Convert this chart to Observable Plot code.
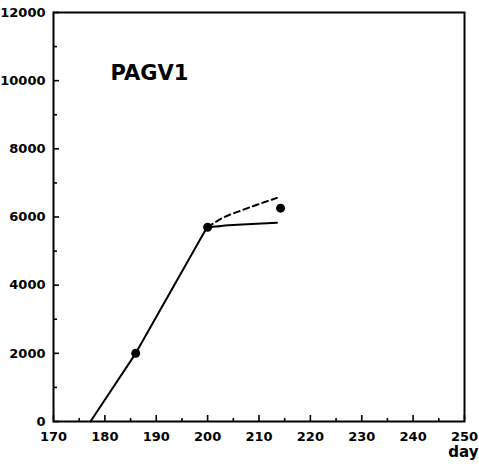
<!DOCTYPE html>
<html>
<head>
<meta charset="utf-8">
<script src="https://cdn.jsdelivr.net/npm/d3@7"></script>
<script src="https://cdn.jsdelivr.net/npm/@observablehq/plot@0.6"></script>
<style>
  html, body { margin: 0; padding: 0; background: #fff; }
  svg text { font-family: "DejaVu Sans", sans-serif; font-weight: bold; }
</style>
</head>
<body>
<div id="chart"></div>
<script>
// Rising (solid) line
const riseDays = [177.2, 186, 199.5, 200];
const riseVals = [0, 2000, 5600, 5700];
// Solid continuation
const solidDays = [200, 201.5, 204, 207.7, 213.5];
const solidVals = [5700, 5720, 5760, 5790, 5830];
// Dashed continuation
const dashDays = [200, 203, 206.7, 210, 213.5];
const dashVals = [5700, 5980, 6200, 6380, 6560];
// Observed points
const obsDays = [186, 200, 214.2];
const obsVals = [2000, 5700, 6260];
// Axis ticks
const xMajor = [170, 180, 190, 200, 210, 220, 230, 240, 250];
const xMinor = [175, 185, 195, 205, 215, 225, 235, 245];
const yMajor = [0, 2000, 4000, 6000, 8000, 10000, 12000];
const yMinor = [1000, 3000, 5000, 7000, 9000, 11000];
const title = "PAGV1";
const xLabel = "day";

const toRows = (xs, ys) => xs.map((x, i) => ({x, y: ys[i]}));
const rise = toRows(riseDays, riseVals);
const solid = toRows(solidDays, solidVals);
const dash = toRows(dashDays, dashVals);
const obs = toRows(obsDays, obsVals);

const chart = Plot.plot({
  width: 479,
  height: 471,
  marginLeft: 53,
  marginRight: 15,
  marginTop: 12,
  marginBottom: 50,
  style: {fontFamily: "DejaVu Sans, sans-serif", fontSize: "13px", color: "#000", background: "#fff"},
  x: {domain: [170, 250]},
  y: {domain: [0, 12000]},
  marks: [
    Plot.frame({stroke: "#000", strokeWidth: 2}),
    // major/minor ticks pointing inward
    Plot.axisX({ticks: xMajor, tickSize: -6, text: null, label: null, strokeWidth: 1.6}),
    Plot.axisX({ticks: xMinor, tickSize: -3, text: null, label: null, strokeWidth: 1.6}),
    Plot.axisY({ticks: yMajor, tickSize: -6, text: null, label: null, strokeWidth: 1.6}),
    Plot.axisY({ticks: yMinor, tickSize: -4, text: null, label: null, strokeWidth: 1.6}),
    // labels
    Plot.axisX({ticks: xMajor, tickSize: 0, tickPadding: 10, label: null, tickFormat: d => String(d), fontWeight: "bold", fontSize: 13}),
    Plot.axisY({ticks: yMajor, tickSize: 0, tickPadding: 8, label: null, tickFormat: d => String(d), fontWeight: "bold", fontSize: 13}),
    Plot.line(rise, {x: "x", y: "y", stroke: "#000", strokeWidth: 2}),
    Plot.line(solid, {x: "x", y: "y", stroke: "#000", strokeWidth: 2, curve: "monotone-x"}),
    Plot.line(dash, {x: "x", y: "y", stroke: "#000", strokeWidth: 2, strokeDasharray: "6,4", curve: "monotone-x"}),
    Plot.dot(obs, {x: "x", y: "y", r: 4.5, fill: "#000", stroke: "none"}),
    Plot.text([title], {frameAnchor: "top-left", dx: 57, dy: 53, text: d => d, fontSize: 21, fontWeight: "bold", textAnchor: "start", lineAnchor: "top"}),
    Plot.text([xLabel], {frameAnchor: "bottom-right", dx: 14, dy: 25, text: d => d, fontSize: 15, fontWeight: "bold", textAnchor: "end", lineAnchor: "top"})
  ]
});
document.getElementById("chart").appendChild(chart);
</script>
</body>
</html>
